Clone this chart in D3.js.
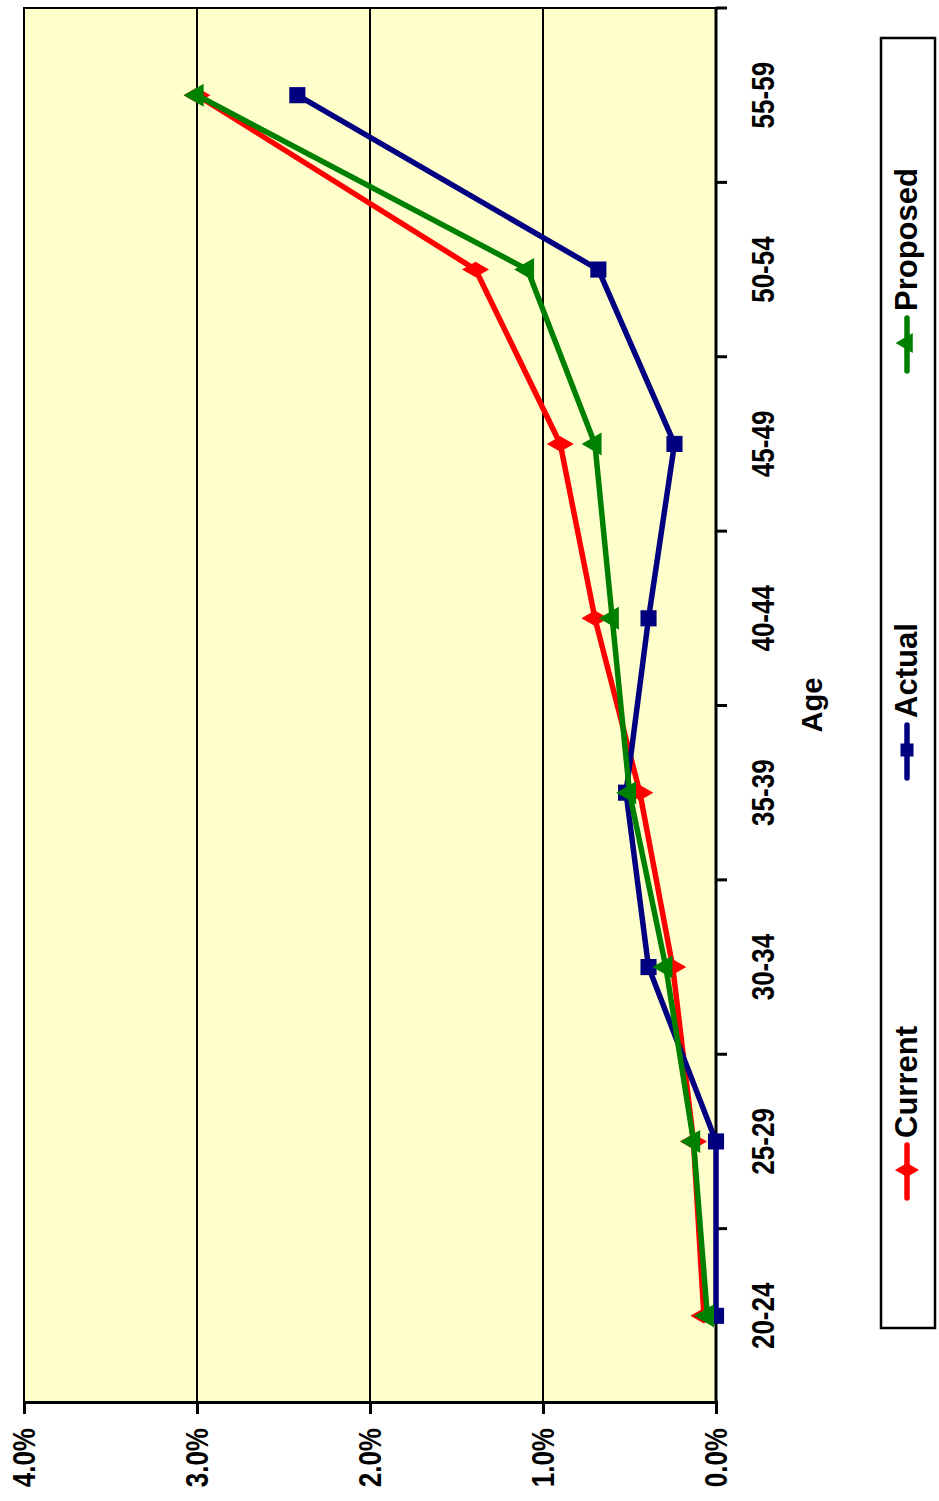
<!DOCTYPE html>
<html><head><meta charset="utf-8">
<script src="https://cdn.jsdelivr.net/npm/d3@7"></script>
<style>body{margin:0;background:#fff}svg{display:block}</style>
</head><body>
<script>
const categories = ["20-24","25-29","30-34","35-39","40-44","45-49","50-54","55-59"];
const current  = [0.07, 0.13, 0.25, 0.44, 0.70, 0.90, 1.39, 3.00];
const actual   = [0.00, 0.00, 0.39, 0.52, 0.39, 0.24, 0.68, 2.42];
const proposed = [0.05, 0.13, 0.29, 0.50, 0.60, 0.70, 1.09, 3.00];
const valueTicks = [0, 1, 2, 3, 4];
const seriesNames = ["Current","Actual","Proposed"];
const seriesColors = ["#FF0000","#000080","#008000"];

const W = 939, H = 1501;
const svg = d3.select("body").append("svg").attr("width", W).attr("height", H);
// chart drawn in landscape coordinates, rotated -90deg onto the page
const g = svg.append("g").attr("transform", `translate(0,${H}) rotate(-90)`);

const plot = {x0: 98, x1: 1493, y0: 24, y1: 716};
const x = d3.scaleBand().domain(categories).range([plot.x0, plot.x1]);
const y = d3.scaleLinear().domain([0, 4]).range([plot.y1, plot.y0]);
const font = "Arial, 'Liberation Sans', Helvetica, sans-serif";

g.append("rect").attr("x", plot.x0).attr("y", plot.y0)
  .attr("width", plot.x1 - plot.x0).attr("height", plot.y1 - plot.y0)
  .attr("fill", "#FFFFCC").attr("stroke", "#000").attr("stroke-width", 2);

// gridlines
g.selectAll(".grid").data(valueTicks.filter(d => d > 0)).enter().append("line")
  .attr("x1", plot.x0).attr("x2", plot.x1)
  .attr("y1", d => y(d)).attr("y2", d => y(d))
  .attr("stroke", "#000").attr("stroke-width", 2);

// value axis
const yAxis = g.append("g").attr("transform", `translate(${plot.x0},0)`)
  .call(d3.axisLeft(y).tickValues(valueTicks).tickSize(11).tickPadding(14)
    .tickFormat(d => d3.format(".1f")(d) + "%"));
yAxis.select(".domain").attr("stroke", "#000").attr("stroke-width", 3);
yAxis.selectAll(".tick line").attr("stroke", "#000").attr("stroke-width", 3);
yAxis.selectAll(".tick text")
  .attr("x", null).attr("dy", "0.35em")
  .attr("transform", "translate(-25,0) scale(0.84,1)")
  .attr("font-family", font).attr("font-weight", "bold")
  .attr("font-size", 31).attr("fill", "#000").attr("text-anchor", "end");

// category axis
g.append("line").attr("x1", plot.x0).attr("x2", plot.x1 + 1)
  .attr("y1", plot.y1).attr("y2", plot.y1).attr("stroke", "#000").attr("stroke-width", 3);
const bounds = d3.range(categories.length + 1).map(i => plot.x0 + i * x.bandwidth());
g.selectAll(".ctick").data(bounds.slice(1)).enter().append("line")
  .attr("x1", d => d).attr("x2", d => d)
  .attr("y1", plot.y1).attr("y2", plot.y1 + 11)
  .attr("stroke", "#000").attr("stroke-width", 3);
g.selectAll(".clabel").data(categories).enter().append("text")
  .attr("transform", d => `translate(${x(d) + x.bandwidth() / 2},774) scale(0.84,1)`)
  .attr("text-anchor", "middle").attr("font-family", font).attr("font-weight", "bold")
  .attr("font-size", 31).text(d => d);

g.append("text").attr("x", 796).attr("y", 822).attr("text-anchor", "middle")
  .attr("font-family", font).attr("font-weight", "bold").attr("font-size", 29).text("Age");

// series
const symbols = [d3.symbolDiamond, d3.symbolSquare, d3.symbolTriangle];
const symSizes = [210, 260, 230];
const data = [current, actual, proposed];
const line = d3.line().x((d, i) => x(categories[i]) + x.bandwidth() / 2).y(d => y(d));
data.forEach((vals, k) => {
  g.append("path").attr("d", line(vals)).attr("fill", "none")
    .attr("stroke", seriesColors[k]).attr("stroke-width", 5.5).attr("stroke-linejoin", "round");
  g.selectAll(".m" + k).data(vals).enter().append("path")
    .attr("d", d3.symbol(symbols[k], symSizes[k]))
    .attr("transform", (d, i) => `translate(${x(categories[i]) + x.bandwidth() / 2},${y(d)})`)
    .attr("fill", seriesColors[k]);
});

// legend
const leg = g.append("g");
leg.append("rect").attr("x", 173).attr("y", 881).attr("width", 1290).attr("height", 54)
  .attr("fill", "#fff").attr("stroke", "#000").attr("stroke-width", 2.5);
const legX = [331, 751, 1158];
seriesNames.forEach((name, k) => {
  leg.append("line").attr("x1", legX[k] - 28).attr("x2", legX[k] + 25)
    .attr("y1", 907).attr("y2", 907).attr("stroke", seriesColors[k])
    .attr("stroke-width", 5.5).attr("stroke-linecap", "round");
  leg.append("path").attr("d", d3.symbol(symbols[k], 170))
    .attr("transform", `translate(${legX[k]},907)`).attr("fill", seriesColors[k]);
  leg.append("text").attr("x", legX[k] + 32).attr("y", 917)
    .attr("font-family", font).attr("font-weight", "bold").attr("font-size", 31).text(name);
});
</script>
</body></html>
